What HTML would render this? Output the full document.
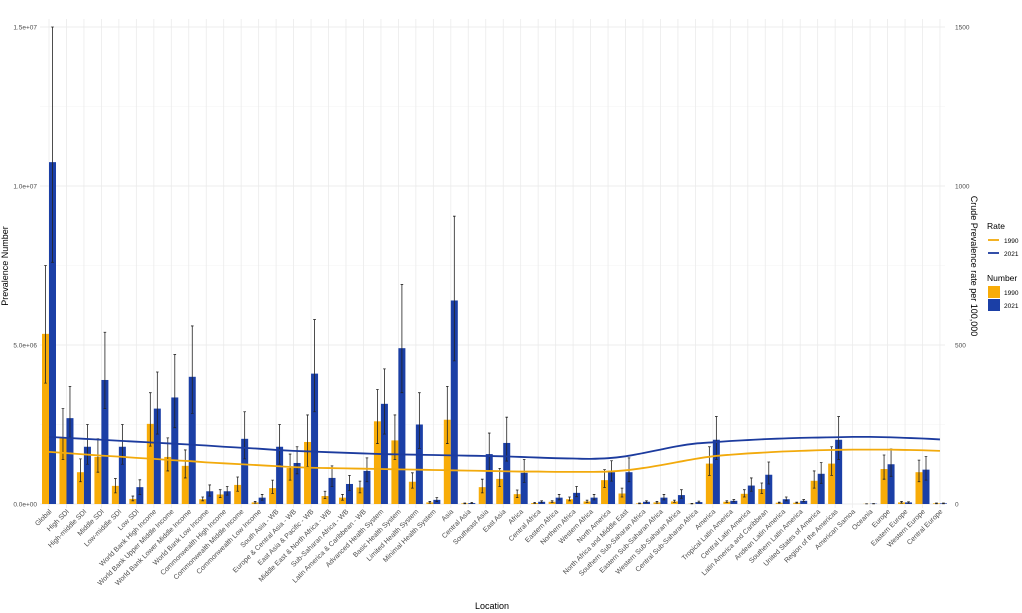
<!DOCTYPE html>
<html><head><meta charset="utf-8">
<style>
html,body{margin:0;padding:0;background:#fff;}
svg{display:block;font-family:"Liberation Sans",sans-serif;}
</style></head>
<body>
<svg id="chart" width="1022" height="613" viewBox="0 0 1022 613" xmlns="http://www.w3.org/2000/svg">
<g id="grid"></g>
<g id="bars"></g>
<g id="errs"></g>
<g id="lines"></g>
<g id="axes"></g>
<text x="8" y="266" transform="rotate(-90 8 266)" text-anchor="middle" font-size="9" fill="#000">Prevalence Number</text>
<text x="971" y="266" transform="rotate(90 971 266)" text-anchor="middle" font-size="9" fill="#000">Crude Prevalence rate per 100,000</text>
<text x="492" y="609" text-anchor="middle" font-size="9" fill="#000">Location</text>
<g>
<text x="987" y="229" font-size="8.5" fill="#000">Rate</text>
<line x1="988" y1="240" x2="999" y2="240" stroke="#f2aa0c" stroke-width="1.8"/>
<text x="1004" y="243" font-size="6.5" fill="#000">1990</text>
<line x1="988" y1="253" x2="999" y2="253" stroke="#1c3b9e" stroke-width="1.8"/>
<text x="1004" y="256" font-size="6.5" fill="#000">2021</text>
<text x="987" y="281" font-size="8.5" fill="#000">Number</text>
<rect x="988" y="286" width="12" height="12" fill="#f8ac08"/>
<text x="1004" y="295" font-size="6.5" fill="#000">1990</text>
<rect x="988" y="299" width="12" height="12" fill="#1b3fa6"/>
<text x="1004" y="308" font-size="6.5" fill="#000">2021</text>
</g>
</svg>
<script>
const categories=["Global","High SDI","High-middle SDI","Middle SDI","Low-middle SDI","Low SDI","World Bank High Income","World Bank Upper Middle Income","World Bank Lower Middle Income","World Bank Low Income","Commonwealth High Income","Commonwealth Middle Income","Commonwealth Low Income","South Asia - WB","Europe & Central Asia - WB","East Asia & Pacific - WB","Middle East & North Africa - WB","Sub-Saharan Africa - WB","Latin America & Caribbean - WB","Advanced Health System","Basic Health System","Limited Health System","Minimal Health System","Asia","Central Asia","Southeast Asia","East Asia","Africa","Central Africa","Eastern Africa","Northern Africa","Western Africa","North America","North Africa and Middle East","Southern Sub-Saharan Africa","Eastern Sub-Saharan Africa","Western Sub-Saharan Africa","Central Sub-Saharan Africa","America","Tropical Latin America","Central Latin America","Latin America and Caribbean","Andean Latin America","Southern Latin America","United States of America","Region of the Americas","American Samoa","Oceania","Europe","Eastern Europe","Western Europe","Central Europe"];
// numbers in millions
const num1990=[5.35,2.1,1.0,1.48,0.57,0.16,2.52,1.48,1.2,0.15,0.3,0.6,0.05,0.5,1.13,1.95,0.25,0.2,0.52,2.6,2.0,0.7,0.05,2.65,0.02,0.53,0.79,0.31,0.03,0.07,0.15,0.08,0.75,0.33,0.02,0.05,0.08,0.01,1.27,0.07,0.32,0.47,0.04,0.04,0.73,1.27,0,0.005,1.1,0.05,1.0,0.02];
const num2021=[10.75,2.7,1.8,3.9,1.8,0.53,3.0,3.35,4.0,0.4,0.4,2.05,0.2,1.8,1.29,4.1,0.82,0.63,1.04,3.15,4.9,2.5,0.13,6.4,0.03,1.57,1.92,0.98,0.07,0.2,0.35,0.2,1.0,1.0,0.07,0.2,0.28,0.06,2.02,0.1,0.58,0.92,0.15,0.1,0.95,2.02,0,0.01,1.25,0.05,1.08,0.02];
const lo1990=[3.8,1.4,0.7,1.0,0.35,0.1,1.82,1.04,0.82,0.1,0.2,0.4,0.03,0.33,0.75,1.17,0.17,0.12,0.35,1.9,1.4,0.5,0.03,1.9,0.01,0.35,0.55,0.2,0.02,0.05,0.1,0.05,0.52,0.22,0.01,0.03,0.05,0.005,0.9,0.05,0.22,0.33,0.03,0.03,0.5,0.9,0,0.003,0.78,0.03,0.7,0.01];
const hi1990=[7.5,3.0,1.42,2.05,0.8,0.25,3.5,2.08,1.7,0.22,0.45,0.85,0.08,0.75,1.57,2.8,0.4,0.3,0.72,3.6,2.8,0.98,0.08,3.7,0.03,0.78,1.12,0.44,0.05,0.1,0.22,0.12,1.08,0.5,0.03,0.08,0.12,0.02,1.8,0.1,0.45,0.66,0.06,0.06,1.04,1.8,0,0.008,1.54,0.08,1.38,0.03];
const lo2021=[7.6,2.1,1.25,3.0,1.25,0.3,2.2,2.4,2.85,0.25,0.28,1.42,0.12,1.25,0.95,2.9,0.55,0.42,0.7,2.2,3.5,1.75,0.08,4.5,0.02,1.05,1.35,0.68,0.04,0.13,0.23,0.13,0.72,0.7,0.04,0.13,0.18,0.04,1.4,0.07,0.4,0.63,0.1,0.07,0.65,1.4,0,0.006,0.87,0.03,0.75,0.01];
const hi2021=[15.0,3.7,2.5,5.4,2.5,0.76,4.15,4.7,5.6,0.6,0.55,2.9,0.3,2.5,1.8,5.8,1.2,0.9,1.45,4.25,6.9,3.5,0.2,9.05,0.05,2.23,2.73,1.4,0.1,0.3,0.55,0.3,1.36,1.45,0.1,0.3,0.45,0.09,2.75,0.14,0.82,1.32,0.22,0.14,1.3,2.75,0,0.015,1.73,0.07,1.49,0.03];
const rate1990=[164,160,156,152,149,145,142,138,135,131,128,125,122,119,116,114,113,112,111,110,109,108,107,106,105,104,103,102,102,101,101,101,102,106,113,122,132,142,150,155,159,162,165,167,169,170,171,171,171,170,169,167];
const rate2021=[211,208,205,202,199,196,193,190,187,184,180,177,174,170,167,165,163,161,159,157,156,155,154,153,152,151,150,148,146,144,143,142,144,150,160,171,182,190,194,198,201,204,206,208,209,210,211,211,210,208,206,203];
const yTicks=[0,5,10,15];
const yTickLabels=["0.0e+00","5.0e+06","1.0e+07","1.5e+07"];
const y2Ticks=[0,500,1000,1500];

const NS="http://www.w3.org/2000/svg";
const X0=40,X1=945,Y0=504,YT=27;
const step=17.47, first=49;
const xPos=i=>first+i*step;
const yNum=v=>Y0-(v/15)*(Y0-YT);
const yRate=v=>Y0-(v/1500)*(Y0-YT);
function mk(tag,attrs,parent){const e=document.createElementNS(NS,tag);for(const k in attrs)e.setAttribute(k,attrs[k]);parent.appendChild(e);return e;}
const grid=document.getElementById('grid'),bars=document.getElementById('bars'),errs=document.getElementById('errs'),lines=document.getElementById('lines'),axes=document.getElementById('axes');

for(let v=0;v<=15;v+=2.5){
  const g=mk('line',{x1:X0,x2:X1,y1:yNum(v),y2:yNum(v),stroke:(v%5===0)?'#e6e6e6':'#f3f3f3','stroke-width':(v%5===0)?0.8:0.5},grid);
  
  
}
categories.forEach((c,i)=>{
  const g=mk('line',{x1:xPos(i),x2:xPos(i),y1:YT-8,y2:Y0+4,stroke:'#ebebeb','stroke-width':0.8},grid);
  
  
});
const bw=7;
categories.forEach((c,i)=>{
  const x=xPos(i);
  const a=mk('rect',{x:x-bw,y:yNum(num1990[i]),width:bw,height:Y0-yNum(num1990[i]),fill:'#f8ac08'},bars);
  
  
  const b=mk('rect',{x:x,y:yNum(num2021[i]),width:bw,height:Y0-yNum(num2021[i]),fill:'#1b3fa6'},bars);
  
  
  [[x-bw/2,lo1990[i],hi1990[i]],[x+bw/2,lo2021[i],hi2021[i]]].forEach(([cx,l,h])=>{
    if(h<=0)return;
    const e=mk('path',{d:`M${cx},${yNum(l)}V${yNum(h)}M${cx-1.3},${yNum(h)}H${cx+1.3}M${cx-1.3},${yNum(l)}H${cx+1.3}`,stroke:'#222','stroke-width':0.8,fill:'none'},errs);
    
    
  });
});
function smooth(arr){
  const p=arr.map((v,i)=>[xPos(i),yRate(v)]);
  let d=`M${p[0][0]},${p[0][1]}`;
  for(let i=0;i<p.length-1;i++){
    const p0=p[Math.max(0,i-1)],p1=p[i],p2=p[i+1],p3=p[Math.min(p.length-1,i+2)];
    d+=`C${p1[0]+(p2[0]-p0[0])/6},${p1[1]+(p2[1]-p0[1])/6} ${p2[0]-(p3[0]-p1[0])/6},${p2[1]-(p3[1]-p1[1])/6} ${p2[0]},${p2[1]}`;
  }
  return d;
}
const l1=mk('path',{d:smooth(rate1990),stroke:'#f2aa0c','stroke-width':1.8,fill:'none'},lines);


const l2=mk('path',{d:smooth(rate2021),stroke:'#1c3b9e','stroke-width':1.8,fill:'none'},lines);


yTicks.forEach((v,i)=>{
  const t=mk('text',{x:37,y:yNum(v)+2.5,'text-anchor':'end','font-size':6.5,fill:'#4d4d4d'},axes);
  t.textContent=yTickLabels[i];
  
  
});
y2Ticks.forEach(v=>{
  const t=mk('text',{x:955,y:yRate(v)+2.5,'font-size':6.5,fill:'#4d4d4d'},axes);
  t.textContent=String(v);
  
  
});
categories.forEach((c,i)=>{
  const x=xPos(i)+3,y=512;
  const t=mk('text',{x:x,y:y,'text-anchor':'end','font-size':7,fill:'#4d4d4d',transform:`rotate(-45 ${x} ${y})`},axes);
  t.textContent=c;
  
  
});
</script>
</body></html>
